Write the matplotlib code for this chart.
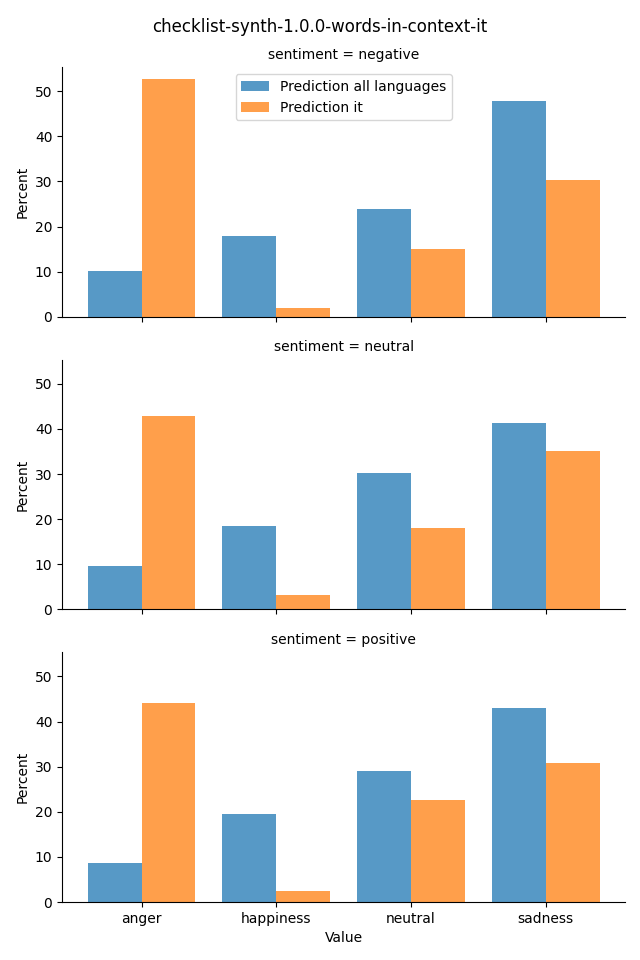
import numpy as np
import matplotlib
matplotlib.use("Agg")
import matplotlib.pyplot as plt

categories = ["anger", "happiness", "neutral", "sadness"]
sentiments = ["negative", "neutral", "positive"]
series_names = ["Prediction all languages", "Prediction it"]

# percent values per sentiment panel
all_languages = {
    "negative": [10.2, 18.0, 23.9, 47.8],
    "neutral": [9.7, 18.4, 30.3, 41.4],
    "positive": [8.6, 19.5, 29.0, 43.1],
}
it_only = {
    "negative": [52.7, 2.0, 15.0, 30.3],
    "neutral": [42.9, 3.3, 18.1, 35.2],
    "positive": [44.2, 2.4, 22.6, 30.8],
}

colors = ["#1f77b4", "#ff7f0e"]

fig, axes = plt.subplots(3, 1, figsize=(6.4, 9.6), dpi=100, sharex=True, sharey=True)
fig.subplots_adjust(left=0.097, right=0.977, top=0.930, bottom=0.0604, hspace=0.172)

x = np.arange(len(categories))
w = 0.4
for ax, sent in zip(axes, sentiments):
    ax.bar(x - w / 2, all_languages[sent], width=w, color=colors[0], alpha=0.75,
           label=series_names[0])
    ax.bar(x + w / 2, it_only[sent], width=w, color=colors[1], alpha=0.75,
           label=series_names[1])
    ax.set_title(f"sentiment = {sent}", fontsize=10)
    ax.set_ylabel("Percent")
    ax.spines["top"].set_visible(False)
    ax.spines["right"].set_visible(False)
    ax.tick_params(axis="x", labelbottom=False)

axes[-1].tick_params(axis="x", labelbottom=True)
axes[-1].set_xticks(x)
axes[-1].set_xticklabels(categories)
axes[-1].set_xlabel("Value")
axes[0].legend(loc="upper center")

fig.suptitle("checklist-synth-1.0.0-words-in-context-it", fontsize=12, y=0.981)
fig.savefig("out.png")
